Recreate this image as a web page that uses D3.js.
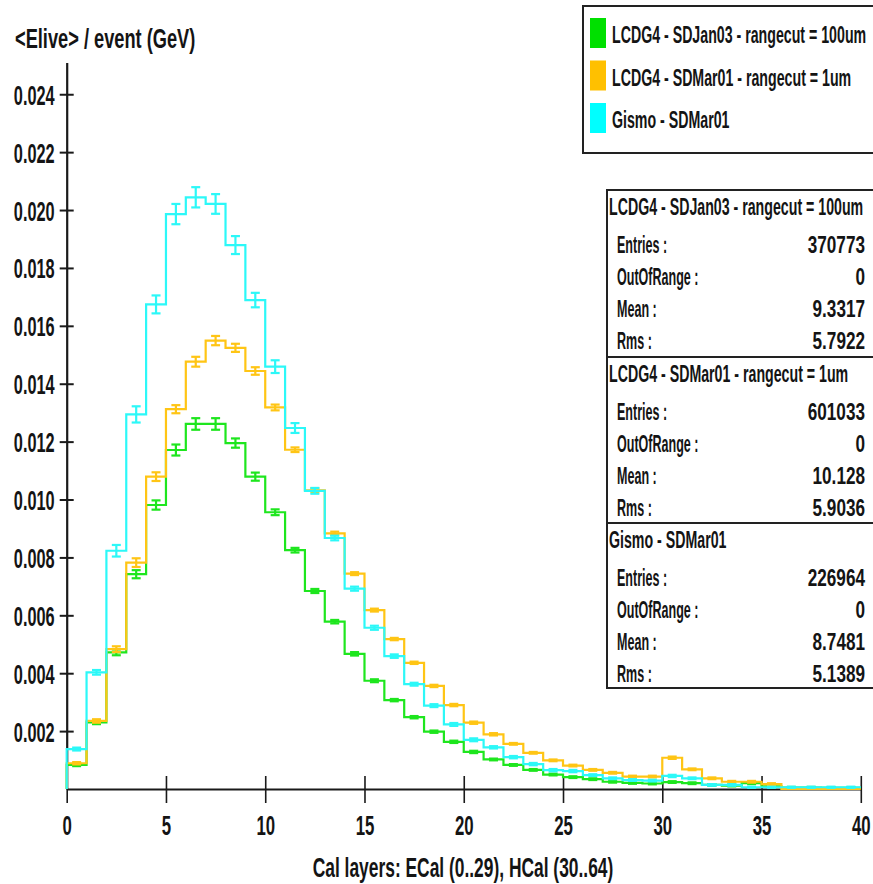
<!DOCTYPE html>
<html>
<head>
<meta charset="utf-8">
<script src="https://cdn.jsdelivr.net/npm/d3@7"></script>
<style>
  body { margin: 0; background: #fff; }
  text { font-family: "Liberation Sans", Arial, sans-serif; font-weight: bold; fill: #141414; }
</style>
</head>
<body>
<div id="container"></div>
<script>
let w = 873;
let h = 884;

// one value per calorimeter layer (bin width 1), layers 0..39
let green = [0.00083, 0.0023, 0.00472, 0.00742, 0.00981, 0.01171, 0.01261, 0.01261, 0.01195, 0.01079,
             0.00956, 0.00825, 0.00684, 0.00578, 0.00467, 0.00374, 0.00307, 0.00248, 0.00198, 0.00163,
             0.00128, 0.00102, 0.00083, 0.00066, 0.0005, 0.00041, 0.00034, 0.00025, 0.00021, 0.00019,
             0.00024, 0.0002, 0.00014, 0.00012, 0.0002, 0.00009, 0.00005, 0.00005, 0.00004, 0.00004];
let greenErr = [0.00004, 0.00006, 0.0001, 0.00014, 0.00016, 0.00019, 0.0002, 0.0002, 0.00016, 0.00014,
                0.0001, 0.00008, 0.00007, 0.00006, 0.00006, 0.00005, 0.00004, 0.00004, 0.00004, 0.00004,
                0.00004, 0.00003, 0.00003, 0.00003, 0.00003, 0.00003, 0.00003, 0.00003, 0.00003, 0.00003,
                0.00003, 0.00003, 0.00003, 0.00003, 0.00003, 0.00003, 0.00002, 0.00002, 0.00002, 0.00002];

let orange = [0.00089, 0.00235, 0.00483, 0.00782, 0.01079, 0.01312, 0.01476, 0.01549, 0.01524, 0.01444,
              0.01318, 0.01172, 0.01032, 0.00883, 0.00744, 0.00618, 0.00518, 0.00436, 0.00356, 0.0029,
              0.00229, 0.00189, 0.00156, 0.00125, 0.00099, 0.00081, 0.00066, 0.00056, 0.00043, 0.00043,
              0.00108, 0.00068, 0.00037, 0.00025, 0.00025, 0.00017, 0, 0, 0, 0];
let orangeErr = [0.00004, 0.00006, 0.0001, 0.00015, 0.00015, 0.00014, 0.00017, 0.00016, 0.00014, 0.00013,
                 0.0001, 0.00008, 0.00007, 0.00006, 0.00005, 0.00005, 0.00004, 0.00004, 0.00004, 0.00004,
                 0.00004, 0.00004, 0.00003, 0.00003, 0.00003, 0.00003, 0.00003, 0.00003, 0.00003, 0.00003,
                 0.00004, 0.00003, 0.00003, 0.00003, 0.00003, 0.00003, 0, 0, 0, 0];

let cyan = [0.00138, 0.00403, 0.00823, 0.01294, 0.01674, 0.01986, 0.02044, 0.02021, 0.01879, 0.01689,
            0.01459, 0.01247, 0.0103, 0.00867, 0.00692, 0.00557, 0.00459, 0.00362, 0.00288, 0.00223,
            0.0017, 0.00144, 0.0011, 0.00086, 0.00065, 0.00062, 0.00048, 0.00037, 0.00031, 0.00029,
            0.00045, 0.00037, 0.00014, 0.00014, 0.00006, 0.00006, 0.00006, 0.00006, 0.00006, 0.00006];
let cyanErr = [0.00005, 0.00008, 0.0002, 0.00028, 0.00031, 0.00035, 0.00035, 0.00034, 0.00031, 0.00025,
               0.00022, 0.00017, 0.0001, 0.00008, 0.00007, 0.00007, 0.00006, 0.00005, 0.00005, 0.00005,
               0.00005, 0.00004, 0.00004, 0.00004, 0.00004, 0.00004, 0.00003, 0.00003, 0.00003, 0.00003,
               0.00004, 0.00003, 0.00003, 0.00003, 0.00002, 0.00002, 0.00002, 0.00002, 0.00002, 0.00002];

let seriesNames = ["LCDG4 - SDJan03 - rangecut = 100um", "LCDG4 - SDMar01 - rangecut = 1um", "Gismo - SDMar01"];
let seriesColors = ["#1ee61e", "#ffc515", "#2cf8f8"];
let legendColors = ["#00e000", "#ffc000", "#00ffff"];

let statEntries = ["370773", "601033", "226964"];
let statOutOfRange = ["0", "0", "0"];
let statMean = ["9.3317", "10.128", "8.7481"];
let statRms = ["5.7922", "5.9036", "5.1389"];

let xTicks = [0, 5, 10, 15, 20, 25, 30, 35, 40];
let yTicks = [0.002, 0.004, 0.006, 0.008, 0.010, 0.012, 0.014, 0.016, 0.018, 0.020, 0.022, 0.024];

let viz = d3.select("#container")
  .append("svg")
    .attr("width", w)
    .attr("height", h)
    .style("background-color", "white")
;

let xScale = d3.scaleLinear().domain([0, 40]).range([66.7, 860.8]);
let yScale = d3.scaleLinear().domain([0, 0.0251]).range([789, 62.4]);

// stretched narrow text, like the original rendering
function addText(parent, x, y, str, size, sx, sy, anchor){
  return parent.append("text")
    .attr("transform", "translate(" + x + "," + y + ") scale(" + sx + "," + sy + ")")
    .attr("text-anchor", anchor || "start")
    .style("font-size", size + "px")
    .text(str);
}

// axes
let xAxis = viz.append("g")
  .attr("transform", "translate(0,789)")
  .call(d3.axisBottom(xScale).tickValues(xTicks).tickSize(0).tickSizeOuter(0).tickFormat(""));
xAxis.select(".domain").attr("stroke", "#1a1a1a").attr("stroke-width", 2.2);
xAxis.selectAll(".tick line").attr("y1", -13).attr("y2", 14).attr("stroke", "#1a1a1a").attr("stroke-width", 1.6);
xAxis.selectAll(".tick").each(function(d){
  addText(d3.select(this), 0, 46, d, 24, 0.7, 1.13, "middle");
});

let yAxis = viz.append("g")
  .attr("transform", "translate(66.7,0)")
  .call(d3.axisLeft(yScale).tickValues(yTicks).tickSize(0).tickSizeOuter(0).tickFormat(""));
yAxis.select(".domain").attr("stroke", "#1a1a1a").attr("stroke-width", 2.2);
yAxis.selectAll(".tick line").attr("x1", -7).attr("x2", 7).attr("stroke", "#1a1a1a").attr("stroke-width", 2);
yAxis.selectAll(".tick").each(function(d){
  addText(d3.select(this), -12, 10, d3.format(".3f")(d), 24, 0.68, 1.13, "end");
});

addText(viz, 15, 48, "<Elive> / event (GeV)", 24, 0.76, 1.12);
addText(viz, 463, 877, "Cal layers: ECal (0..29), HCal (30..64)", 24, 0.725, 1.13, "middle");

// histograms
let allSeries = [
  {values: green, errors: greenErr, color: seriesColors[0]},
  {values: orange, errors: orangeErr, color: seriesColors[1]},
  {values: cyan, errors: cyanErr, color: seriesColors[2]}
];

let stepLine = d3.line()
  .x(function(d){ return xScale(d.x); })
  .y(function(d){ return yScale(d.v); })
  .curve(d3.curveStepAfter);

function getPoints(values){
  let pts = [{x: 0, v: 0}];
  values.forEach(function(v, i){ pts.push({x: i, v: v}); });
  pts.push({x: values.length, v: values[values.length - 1]});
  return pts;
}

allSeries.forEach(function(s){
  let g = viz.append("g");
  g.append("path")
    .attr("d", stepLine(getPoints(s.values)))
    .attr("fill", "none")
    .attr("stroke", s.color)
    .attr("stroke-width", 2.2);

  let bars = g.selectAll(".err").data(s.values.map(function(v, i){ return {i: i, v: v, e: s.errors[i]}; })
      .filter(function(d){ return d.v > 0; }))
    .enter().append("g")
      .attr("class", "err")
      .attr("stroke", s.color)
      .attr("stroke-width", 2.2);

  bars.append("line")
    .attr("x1", function(d){ return xScale(d.i + 0.5); })
    .attr("x2", function(d){ return xScale(d.i + 0.5); })
    .attr("y1", function(d){ return yScale(d.v - d.e); })
    .attr("y2", function(d){ return yScale(d.v + d.e); });
  bars.append("line")
    .attr("x1", function(d){ return xScale(d.i + 0.5) - 4.5; })
    .attr("x2", function(d){ return xScale(d.i + 0.5) + 4.5; })
    .attr("y1", function(d){ return yScale(d.v + d.e); })
    .attr("y2", function(d){ return yScale(d.v + d.e); });
  bars.append("line")
    .attr("x1", function(d){ return xScale(d.i + 0.5) - 4.5; })
    .attr("x2", function(d){ return xScale(d.i + 0.5) + 4.5; })
    .attr("y1", function(d){ return yScale(d.v - d.e); })
    .attr("y2", function(d){ return yScale(d.v - d.e); });
});

// legend
let legend = viz.append("g");
legend.append("rect")
  .attr("x", 583).attr("y", 6).attr("width", 320).attr("height", 147)
  .attr("fill", "white").attr("stroke", "#222").attr("stroke-width", 2);
seriesNames.forEach(function(name, i){
  legend.append("rect")
    .attr("x", 590).attr("y", 18 + i * 42.5).attr("width", 16).attr("height", 30)
    .attr("fill", legendColors[i]);
  addText(legend, 612, 43 + i * 42.5, name, 22, 0.645, 1.12);
});

// stats boxes
let stats = viz.append("g");
let boxTops = [190, 357, 523];
stats.append("rect")
  .attr("x", 607).attr("y", 190).attr("width", 300).attr("height", 498)
  .attr("fill", "white").attr("stroke", "#222").attr("stroke-width", 2);
seriesNames.forEach(function(name, i){
  let top = boxTops[i];
  if (i > 0) {
    stats.append("line")
      .attr("x1", 607).attr("x2", 873).attr("y1", top).attr("y2", top)
      .attr("stroke", "#222").attr("stroke-width", 2);
  }
  addText(stats, 609, top + 25, name, 22, 0.645, 1.1);
  let labels = ["Entries :", "OutOfRange :", "Mean :", "Rms :"];
  let vals = [statEntries[i], statOutOfRange[i], statMean[i], statRms[i]];
  labels.forEach(function(lab, j){
    addText(stats, 617, top + 63 + j * 32, lab, 22, 0.57, 1.1);
    addText(stats, 865, top + 63 + j * 32, vals[j], 22, 0.78, 1.1, "end");
  });
});
</script>
</body>
</html>
